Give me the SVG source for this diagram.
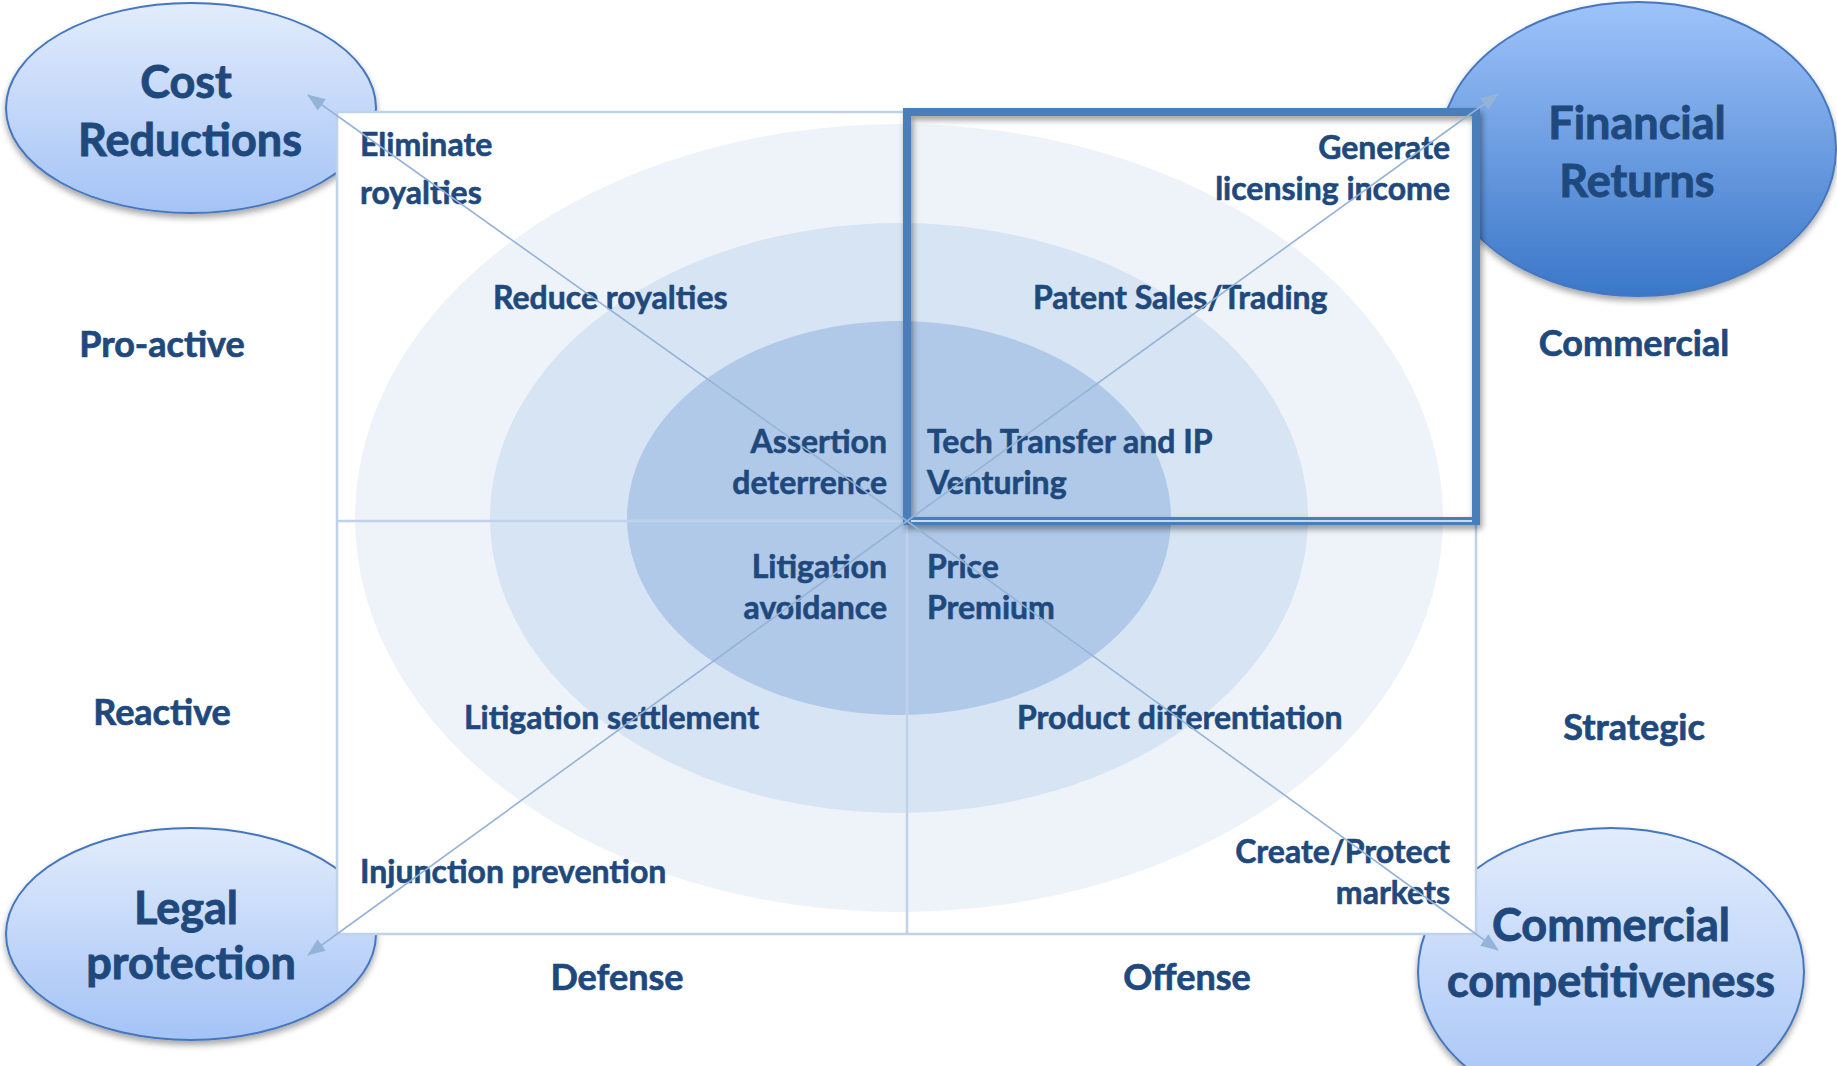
<svg xmlns="http://www.w3.org/2000/svg" width="1837" height="1066" viewBox="0 0 1837 1066">
  <defs>
    <linearGradient id="gradLight" x1="0" y1="0" x2="0" y2="1">
      <stop offset="0" stop-color="#e2ecfc"/>
      <stop offset="1" stop-color="#a4c3f6"/>
    </linearGradient>
    <linearGradient id="gradDark" x1="0" y1="0" x2="0" y2="1">
      <stop offset="0" stop-color="#9ec3fa"/>
      <stop offset="1" stop-color="#3a77c8"/>
    </linearGradient>
    <filter id="nodeShadow" x="-10%" y="-10%" width="125%" height="130%">
      <feDropShadow dx="0" dy="4" stdDeviation="3" flood-color="#000" flood-opacity="0.35"/>
    </filter>
    <filter id="frameShadow" x="-5%" y="-5%" width="112%" height="115%">
      <feDropShadow dx="2" dy="4" stdDeviation="3" flood-color="#000" flood-opacity="0.4"/>
    </filter>
    <marker id="arrowHead" viewBox="0 0 18 14" refX="17" refY="7" markerWidth="18" markerHeight="14" markerUnits="userSpaceOnUse" orient="auto">
      <path d="M0,0 L18,7 L0,14 z" fill="#94b3d8"/>
    </marker>
    <style>
      .t { font-family: Lato, "Liberation Sans", sans-serif; font-weight: 700; fill: #1f497d; stroke: #1f497d; stroke-width: 0.6; }
      .node { font-size: 45px; text-anchor: middle; stroke-width: 0.9; }
      .axis { font-size: 36px; text-anchor: middle; stroke-width: 0.7; }
      .q { font-size: 32px; }
      .end { text-anchor: end; }
      .ell { stroke: #4577bf; stroke-width: 2; filter: url(#nodeShadow); }
      .grid { fill: none; stroke: #bfd2ea; stroke-width: 2.5; }
      .diag { stroke: #94b3d8; stroke-width: 1.6; fill: none; marker-end: url(#arrowHead); }
    </style>
  </defs>

  <rect width="1837" height="1066" fill="#ffffff"/>

  <!-- outcome ellipses at the four corners -->
  <g id="node-cost-reductions">
    <ellipse class="ell" cx="191" cy="108" rx="185" ry="105" fill="url(#gradLight)"/>
    <text class="t node" x="186" y="98">Cost</text>
    <text class="t node" x="190" y="156">Reductions</text>
  </g>
  <g id="node-financial-returns">
    <ellipse class="ell" cx="1638" cy="149" rx="198" ry="147" fill="url(#gradDark)"/>
    <text class="t node" x="1637" y="139">Financial</text>
    <text class="t node" x="1637" y="197">Returns</text>
  </g>
  <g id="node-legal-protection">
    <ellipse class="ell" cx="191" cy="934" rx="185" ry="106" fill="url(#gradLight)"/>
    <text class="t node" x="186" y="924">Legal</text>
    <text class="t node" x="191" y="979">protection</text>
  </g>
  <g id="node-commercial-competitiveness">
    <ellipse class="ell" cx="1611" cy="972" rx="193" ry="144" fill="url(#gradLight)"/>
    <text class="t node" x="1611" y="941">Commercial</text>
    <text class="t node" x="1611" y="997">competitiveness</text>
  </g>

  <!-- quadrant field -->
  <g id="field">
    <rect x="337" y="112" width="1139" height="822" fill="#ffffff"/>
    <ellipse cx="899" cy="518" rx="544" ry="394" fill="#eef3fa"/>
    <ellipse cx="899" cy="518" rx="409" ry="295" fill="#d7e4f4"/>
    <ellipse cx="899" cy="518" rx="272" ry="197" fill="#b0c9e8"/>
    <rect class="grid" x="337" y="112" width="1139" height="822"/>
    <line class="grid" x1="337" y1="521" x2="1476" y2="521"/>
    <line class="grid" x1="907" y1="521" x2="907" y2="934"/>
  </g>

  <!-- highlighted commercial quadrant -->
  <g id="highlight-frame">
    <rect x="907" y="112" width="569" height="409" fill="none" stroke="#4a7ebb" stroke-width="8" filter="url(#frameShadow)"/>
    <line x1="911" y1="521" x2="1472" y2="521" stroke="#c8d9ee" stroke-width="2"/>
  </g>

  <!-- axis labels -->
  <g id="axis-proactive"><text class="t axis" x="162" y="357">Pro-active</text></g>
  <g id="axis-reactive"><text class="t axis" x="162" y="725">Reactive</text></g>
  <g id="axis-commercial"><text class="t axis" x="1634" y="356">Commercial</text></g>
  <g id="axis-strategic"><text class="t axis" x="1634" y="740">Strategic</text></g>
  <g id="axis-defense"><text class="t axis" x="617" y="990">Defense</text></g>
  <g id="axis-offense"><text class="t axis" x="1187" y="990">Offense</text></g>

  <!-- quadrant items -->
  <g id="item-eliminate-royalties">
    <text class="t q" x="360" y="156">Eliminate</text>
    <text class="t q" x="360" y="204">royalties</text>
  </g>
  <g id="item-reduce-royalties"><text class="t q" x="493" y="309">Reduce royalties</text></g>
  <g id="item-assertion-deterrence">
    <text class="t q end" x="887" y="453">Assertion</text>
    <text class="t q end" x="887" y="494">deterrence</text>
  </g>
  <g id="item-generate-licensing">
    <text class="t q end" x="1450" y="159">Generate</text>
    <text class="t q end" x="1450" y="200">licensing income</text>
  </g>
  <g id="item-patent-sales"><text class="t q" x="1033" y="309">Patent Sales/Trading</text></g>
  <g id="item-tech-transfer">
    <text class="t q" x="927" y="453">Tech Transfer and IP</text>
    <text class="t q" x="927" y="494">Venturing</text>
  </g>
  <g id="item-litigation-avoidance">
    <text class="t q end" x="887" y="578">Litigation</text>
    <text class="t q end" x="887" y="619">avoidance</text>
  </g>
  <g id="item-price-premium">
    <text class="t q" x="927" y="578">Price</text>
    <text class="t q" x="927" y="619">Premium</text>
  </g>
  <g id="item-litigation-settlement"><text class="t q" x="464" y="729">Litigation settlement</text></g>
  <g id="item-product-differentiation"><text class="t q" x="1017" y="729">Product differentiation</text></g>
  <g id="item-injunction-prevention"><text class="t q" x="360" y="883">Injunction prevention</text></g>
  <g id="item-create-protect">
    <text class="t q end" x="1450" y="863">Create/Protect</text>
    <text class="t q end" x="1450" y="904">markets</text>
  </g>

  <!-- diagonal connectors from the centre to each outcome -->
  <g id="connectors">
    <line class="diag" x1="907" y1="521" x2="308" y2="95"/>
    <line class="diag" x1="907" y1="521" x2="1498" y2="94"/>
    <line class="diag" x1="907" y1="521" x2="308" y2="955"/>
    <line class="diag" x1="907" y1="521" x2="1498" y2="950"/>
  </g>
</svg>
